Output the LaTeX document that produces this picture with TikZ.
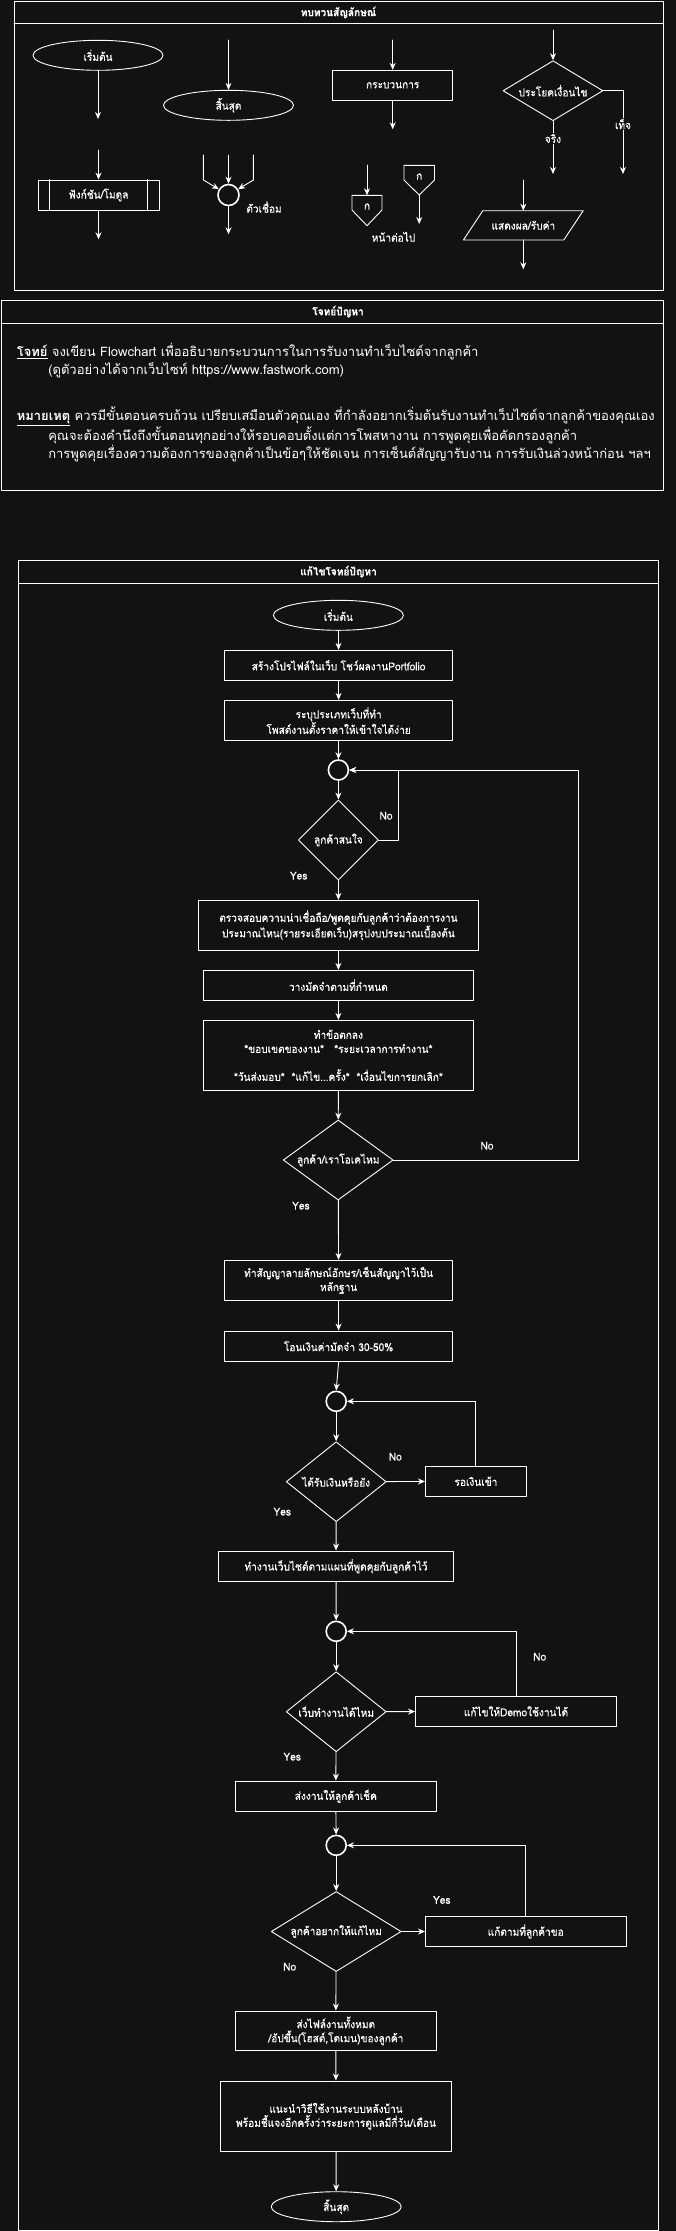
\documentclass[tikz,border=0pt]{standalone}
\usepackage{fontspec}
\newfontfamily\thaifont[Script=Thai,FakeStretch=0.92,FakeBold=0.5]{Loma}
\newfontfamily\probfont[Script=Thai]{Loma}
\usetikzlibrary{arrows.meta}
\usetikzlibrary{shapes.geometric}
\usetikzlibrary{positioning}
\definecolor{bgdark}{HTML}{121212}

\begin{document}
\begin{tikzpicture}[line cap=round,line join=round,>={Stealth[length=7pt,width=6pt]},x=1pt,y=-1pt,
  color=white,line width=0.9pt,
  every node/.style={font=\thaifont\fontsize{11}{14}\selectfont},
  every label/.style={font=\thaifont\fontsize{11}{14}\selectfont},
  ttl/.style={font=\thaifont\bfseries\fontsize{11}{14}\selectfont},
  prob/.style={font=\probfont\fontsize{13}{15}\selectfont,anchor=west},
  proc/.style={draw,rectangle,align=center,inner sep=0pt},
  term/.style={draw,ellipse,inner sep=0pt,minimum width=130,minimum height=30},
  cond/.style={draw,diamond,inner sep=0pt},
  conn/.style={draw,circle,inner sep=0pt,line width=1.6pt,minimum size=20},
  cut/.style={fill=bgdark,inner sep=1pt}]
\useasboundingbox (0,0) rectangle (676,2231);
\fill[bgdark] (0,0) rectangle (676,2231);

\draw (14,1) rectangle (663,290);
\draw (14,23.5) -- (663,23.5);
\node[ttl] (ttlA) at (338.5,12.5) {ทบทวนสัญลักษณ์};

\node[term] (lgStart) at (98,55.3) {เริ่มต้น};
\coordinate (lgStartOut) at (98,119);
\draw[->] (lgStart) -- (lgStartOut);
\coordinate (lgFnIn) at (98.5,150);
\node[proc,minimum width=121,minimum height=30] (lgFn) at (98.5,195) {ฟังก์ชัน/โมดูล};
\draw ([xshift=12pt]lgFn.north west) -- ([xshift=12pt]lgFn.south west);
\draw ([xshift=-12.5pt]lgFn.north east) -- ([xshift=-12.5pt]lgFn.south east);
\draw[->] (lgFnIn) -- (lgFn);
\coordinate (lgFnOut) at (98.5,239.3);
\draw[->] (lgFn) -- (lgFnOut);

\coordinate (lgEndIn) at (228.5,40);
\node[term] (lgEnd) at (228.5,105.3) {สิ้นสุด};
\draw[->] (lgEndIn) -- (lgEnd);
\node[conn,minimum size=21] (lgCn) at (228.5,195) {};
\coordinate (lgCnA) at (203.4,155);
\coordinate (lgCnB) at (228.5,155);
\coordinate (lgCnC) at (253.4,155);
\draw[->] (lgCnA) -- ++(0,25) -- (lgCn);
\draw[->] (lgCnB) -- (lgCn);
\draw[->] (lgCnC) -- ++(0,25) -- (lgCn);
\coordinate (lgCnOut) at (228.5,234.3);
\draw[->] (lgCn) -- (lgCnOut);
\node (lgCnTxt) at (264,207) {ตัวเชื่อม};

\coordinate (lgPrIn) at (392.7,40);
\node[proc,minimum width=120,minimum height=30] (lgPr) at (392.7,85.3) {กระบวนการ};
\draw[->] (lgPrIn) -- (lgPr);
\coordinate (lgPrOut) at (392.7,129.3);
\draw[->] (lgPr) -- (lgPrOut);

\draw (352,195.3) -- (382,195.3) -- (382,210) -- (367,225.7) -- (352,210) -- cycle;
\node (lgPgA) at (367,206.5) {ก};
\coordinate (lgPgAIn) at (367,165);
\coordinate (lgPgATop) at (367,195.3);
\draw[->] (lgPgAIn) -- (lgPgATop);
\draw (404,165.3) -- (434.5,165.3) -- (434.5,180) -- (419.2,195) -- (404,180) -- cycle;
\node (lgPgB) at (419.2,176.5) {ก};
\coordinate (lgPgBTip) at (419.2,195);
\coordinate (lgPgBOut) at (419.2,224);
\draw[->] (lgPgBTip) -- (lgPgBOut);
\node (lgPgTxt) at (393.5,236.7) {หน้าต่อไป};

\coordinate (lgIfIn) at (553,30);
\node[cond,minimum width=100,minimum height=60,label={center:ประโยคเงื่อนไข}] (lgIf) at (553,90.7) {};
\draw[->] (lgIfIn) -- (lgIf);
\coordinate (lgIfT) at (553,174);
\coordinate (lgIfF) at (623,174);
\draw[->] (lgIf) -- (lgIfT) node[cut,pos=0.33] (lgTrue) {จริง};
\draw[->] (lgIf.east) -| (lgIfF) node[cut,pos=0.7] (lgFalse) {เท็จ};

\draw (482.8,210.7) -- (583.2,210.7) -- (563.8,240) -- (463.4,240) -- cycle;
\node (lgIo) at (523.3,225.3) {แสดงผล/รับค่า};
\coordinate (lgIoIn) at (523.3,180);
\coordinate (lgIoTop) at (523.3,210.7);
\coordinate (lgIoBot) at (523.3,240);
\coordinate (lgIoOut) at (523.3,269.3);
\draw[->] (lgIoIn) -- (lgIoTop);
\draw[->] (lgIoBot) -- (lgIoOut);

\draw (1,300) rectangle (663,490);
\draw (1,323.3) -- (663,323.3);
\node[ttl] (ttlB) at (338,311.7) {โจทย์ปัญหา};
\node[prob] (pbA) at (13,351.7) {\underline{\textbf{โจทย์}} จงเขียน Flowchart เพื่ออธิบายกระบวนการในการรับงานทำเว็บไซต์จากลูกค้า};
\node[prob] (pbB) at (44.5,370) {(ดูตัวอย่างได้จากเว็บไซท์ https://www.fastwork.com)};
\node[prob] (pbC) at (13,416.7) {\underline{\textbf{หมายเหตุ}} ควรมีขั้นตอนครบถ้วน เปรียบเสมือนตัวคุณเอง ที่กำลังอยากเริ่มต้นรับงานทำเว็บไซต์จากลูกค้าของคุณเอง};
\node[prob] (pbD) at (44.5,435) {คุณจะต้องคำนึงถึงขั้นตอนทุกอย่างให้รอบคอบตั้งแต่การโพสหางาน การพูดคุยเพื่อคัดกรองลูกค้า};
\node[prob] (pbE) at (44.5,453.3) {การพูดคุยเรื่องความต้องการของลูกค้าเป็นข้อๆให้ชัดเจน การเซ็นต์สัญญารับงาน การรับเงินล่วงหน้าก่อน ฯลฯ};

\draw (18.5,560) rectangle (658.6,2230);
\draw (18.5,583.3) -- (658.6,583.3);
\node[ttl] (ttlC) at (338.5,571.7) {แก้ไขโจทย์ปัญหา};

\node[term] (start) at (338.4,615.3) {เริ่มต้น};
\node[proc,minimum width=228,minimum height=30] (profile) at (338.6,665.3) {สร้างโปรไฟล์ในเว็บ โชว์ผลงานPortfolio};
\node[proc,minimum width=228,minimum height=40.4] (post) at (338.6,720.5) {ระบุประเภทเว็บที่ทำ\\โพสต์งานตั้งราคาให้เข้าใจได้ง่าย};
\node[conn] (jA) at (338.4,770) {};
\node[cond,minimum width=80,minimum height=80,label={center:ลูกค้าสนใจ}] (interest) at (338.4,840) {};
\node[proc,minimum width=280,minimum height=50] (check) at (338.4,925.3) {ตรวจสอบความน่าเชื่อถือ/พูดคุยกับลูกค้าว่าต้องการงาน\\ประมาณไหน(รายระเอียดเว็บ)สรุปงบประมาณเบื้องต้น};
\node[proc,minimum width=270,minimum height=30] (deposit) at (338.4,985.3) {วางมัดจำตามที่กำหนด};
\node[proc,minimum width=270,minimum height=70] (agree) at (338.4,1055.3) {ทำข้อตกลง\\*ขอบเขตของงาน*~~~*ระยะเวลาการทำงาน*\\[14pt]*วันส่งมอบ*~~*แก้ไข...ครั้ง*~~*เงื่อนไขการยกเลิก*};
\node[cond,minimum width=110,minimum height=80,label={center:ลูกค้า/เราโอเคไหม}] (okay) at (338.2,1160) {};
\node[proc,minimum width=228,minimum height=40] (contract) at (338.6,1280.3) {ทำสัญญาลายลักษณ์อักษร/เซ็นสัญญาไว้เป็น\\หลักฐาน};
\node[proc,minimum width=228,minimum height=30.7] (transfer) at (338.6,1346.3) {โอนเงินค่ามัดจำ 30-50\%};
\node[conn] (jB) at (336.2,1401.3) {};
\node[cond,minimum width=100,minimum height=80,label={center:ได้รับเงินหรือยัง}] (paid) at (336.2,1481.7) {};
\node[proc,minimum width=101,minimum height=30] (wait) at (475.9,1481.3) {รอเงินเข้า};
\node[proc,minimum width=235,minimum height=30.7] (build) at (336,1566.3) {ทำงานเว็บไซต์ตามแผนที่พูดคุยกับลูกค้าไว้};
\node[conn] (jC) at (336.2,1631.3) {};
\node[cond,minimum width=100,minimum height=80,label={center:เว็บทำงานได้ไหม}] (works) at (336.2,1711.7) {};
\node[proc,minimum width=201,minimum height=30] (demo) at (516,1711.3) {แก้ไขให้Demoใช้งานได้};
\node[proc,minimum width=201,minimum height=30.3] (send) at (335.8,1796.2) {ส่งงานให้ลูกค้าเช็ค};
\node[conn] (jD) at (336.2,1845.3) {};
\node[cond,minimum width=130,minimum height=80,label={center:ลูกค้าอยากให้แก้ไหม}] (revise) at (336.2,1931.5) {};
\node[proc,minimum width=200.5,minimum height=30.4] (fix) at (525.7,1931.5) {แก้ตามที่ลูกค้าขอ};
\node[proc,minimum width=201,minimum height=39.7] (deliver) at (335.8,2030.8) {ส่งไฟล์งานทั้งหมด\\/อัปขึ้น(โฮสต์,โดเมน)ของลูกค้า};
\node[proc,minimum width=230.6,minimum height=70.7] (guide) at (336,2116.3) {แนะนำวิธีใช้งานระบบหลังบ้าน\\พร้อมชี้แจงอีกครั้งว่าระยะการดูแลมีกี่วัน/เดือน};
\node[term] (finish) at (336.2,2206.7) {สิ้นสุด};

\draw[->] (start) -- (profile);
\draw[->] (profile) -- (post);
\draw[->] (post) -- (jA);
\draw[->] (jA) -- (interest);
\draw[->] (interest) -- (check);
\draw[->] (interest.east) -- ++(19.4,0) |- (jA.east);
\draw[->] (check) -- (deposit);
\draw[->] (deposit) -- (agree);
\draw[->] (agree) -- (okay);
\coordinate (loopA) at (578.4,770);
\draw[->] (okay.east) -| (loopA) -- (jA.east);
\draw[->] (okay) -- (contract);
\draw[->] (contract) -- (transfer);
\draw[->] (transfer.south) -- (jB.north);
\draw[->] (jB) -- (paid);
\draw[->] (paid) -- (wait);
\draw[->] (wait.north) |- (jB.east);
\draw[->] (paid) -- (build);
\draw[->] (build) -- (jC);
\draw[->] (jC) -- (works);
\draw[->] (works) -- (demo);
\draw[->] (demo.north) |- (jC.east);
\draw[->] (works) -- (send);
\draw[->] (send) -- (jD);
\draw[->] (jD) -- (revise);
\draw[->] (revise) -- (fix);
\draw[->] (fix.north) |- (jD.east);
\draw[->] (revise) -- (deliver);
\draw[->] (deliver) -- (guide);
\draw[->] (guide) -- (finish);

\node (noA) at (386,815.7) {No};
\node (yesA) at (298.7,875.7) {Yes};
\node (noB) at (487,1145.7) {No};
\node (yesB) at (300.9,1205.7) {Yes};
\node (noC) at (395.3,1456.7) {No};
\node (yesC) at (282.3,1511.7) {Yes};
\node (noD) at (539.7,1656.7) {No};
\node (yesD) at (292.2,1756.7) {Yes};
\node (yesE) at (441.8,1900) {Yes};
\node (noE) at (289.7,1966.7) {No};
\end{tikzpicture}
\end{document}
